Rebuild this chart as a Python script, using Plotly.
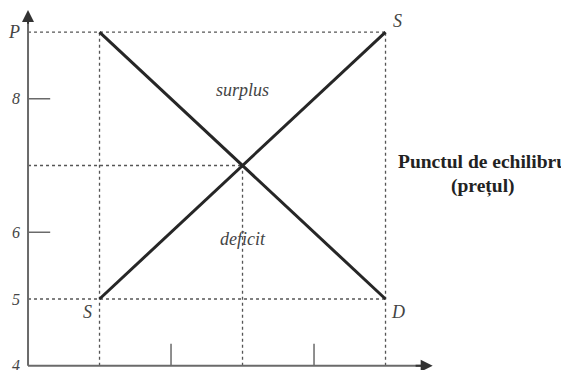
import plotly.graph_objects as go

# oferta si cererea
quantity = [1, 5]
supply_price = [5, 9]
demand_price = [9, 5]
eq_q, eq_p = 3, 7

y_tick_vals = [9, 8, 6, 5, 4]
y_tick_text = ['P', '8', '6', '5', '4']
x_minor_ticks = [2, 4]

serif = 'Liberation Serif'
dot_col = '#555555'
axis_col = '#6a6a6a'
line_col = '#262626'

fig = go.Figure()

def dotted(xs, ys):
    fig.add_trace(go.Scatter(x=xs, y=ys, mode='lines', hoverinfo='skip',
                             line=dict(color=dot_col, width=1.3, dash='dot')))

# linii punctate ajutatoare
dotted([0, quantity[1]], [max(supply_price), max(supply_price)])
dotted([0, quantity[1]], [min(supply_price), min(supply_price)])
dotted([0, eq_q], [eq_p, eq_p])
dotted([quantity[0], quantity[0]], [4, max(demand_price)])
dotted([quantity[1], quantity[1]], [4, max(supply_price)])
dotted([eq_q, eq_q], [4, eq_p])

# curbele
fig.add_trace(go.Scatter(x=quantity, y=supply_price, mode='lines',
                         line=dict(color=line_col, width=3)))
fig.add_trace(go.Scatter(x=quantity, y=demand_price, mode='lines',
                         line=dict(color=line_col, width=3)))

# axe
fig.add_trace(go.Scatter(x=[0, 0], y=[4, 9.3], mode='lines',
                         line=dict(color=axis_col, width=2)))
fig.add_trace(go.Scatter(x=[0, 5.5], y=[4, 4], mode='lines',
                         line=dict(color=axis_col, width=2)))
fig.add_annotation(x=0, y=9.33, ax=0, ay=9.1, xref='x', yref='y', axref='x', ayref='y',
                   showarrow=True, arrowhead=2, arrowsize=1.2, arrowwidth=2,
                   arrowcolor='#333333', text='')
fig.add_annotation(x=5.66, y=4, ax=5.4, ay=4, xref='x', yref='y', axref='x', ayref='y',
                   showarrow=True, arrowhead=2, arrowsize=1.2, arrowwidth=2,
                   arrowcolor='#333333', text='')

# gradatii
for v in [8, 6]:
    fig.add_trace(go.Scatter(x=[0, 0.31], y=[v, v], mode='lines',
                             line=dict(color=axis_col, width=1.5)))
for v in x_minor_ticks:
    fig.add_trace(go.Scatter(x=[v, v], y=[4, 4.33], mode='lines',
                             line=dict(color=axis_col, width=1.5)))

for v, t in zip(y_tick_vals, y_tick_text):
    fig.add_annotation(x=-0.08, y=v, text=t, showarrow=False, xanchor='right',
                       font=dict(family=serif, size=18 if t == 'P' else 16,
                                 color='#444444', style='italic'))

labels = [
    (5.17, 9.17, 'S'), (0.83, 4.8, 'S'), (5.17, 4.8, 'D'),
]
for x, y, t in labels:
    fig.add_annotation(x=x, y=y, text=t, showarrow=False,
                       font=dict(family=serif, size=18, color='#444444', style='italic'))

fig.add_annotation(x=eq_q, y=8.13, text='surplus', showarrow=False,
                   font=dict(family=serif, size=18, color='#444444', style='italic'))
fig.add_annotation(x=eq_q, y=5.9, text='deficit', showarrow=False,
                   font=dict(family=serif, size=18, color='#444444', style='italic'))

fig.add_annotation(x=6.36, y=7.06, text='<b>Punctul de echilibru</b>', showarrow=False,
                   font=dict(family=serif, size=19.5, color='#222222'))
fig.add_annotation(x=6.36, y=6.7, text='<b>(prețul)</b>', showarrow=False,
                   font=dict(family=serif, size=19.5, color='#222222'))

# pagina are o margine de 8px, asa ca intervalele sunt decalate
fig.update_layout(
    width=569, height=370,
    margin=dict(l=0, r=0, t=0, b=0, autoexpand=False),
    paper_bgcolor='white', plot_bgcolor='white',
    showlegend=False,
    xaxis=dict(range=[-0.28, 7.678], visible=False),
    yaxis=dict(range=[3.8165, 9.36], visible=False),
)

fig.write_html("out.html")
